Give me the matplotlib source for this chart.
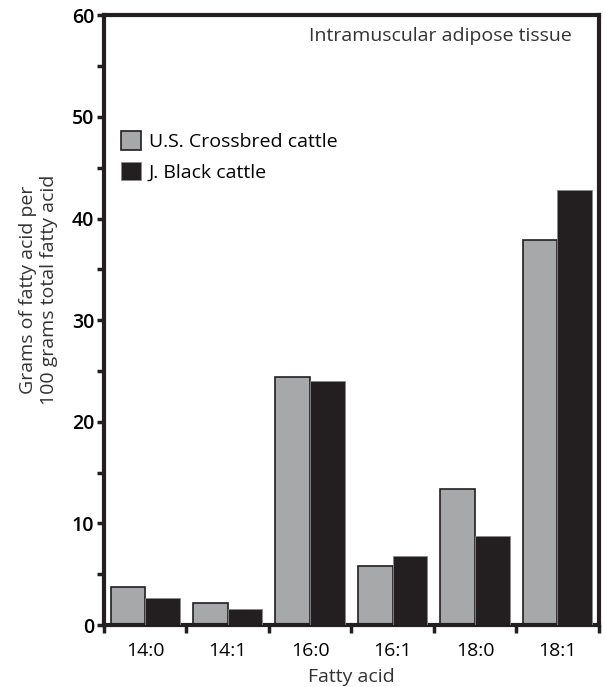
import numpy as np
import matplotlib.pyplot as plt
from matplotlib.ticker import MultipleLocator, FixedLocator

plt.rcParams['font.family'] = ['Open Sans', 'DejaVu Sans']

# Data
acids = ['14:0', '14:1', '16:0', '16:1', '18:0', '18:1']
us_crossbred = [3.7, 2.2, 24.4, 5.8, 13.4, 37.9]
j_black = [2.65, 1.6, 24.0, 6.8, 8.8, 42.8]

gray = '#a7a8aa'
dark = '#231f20'

fig = plt.figure(figsize=(6.06, 6.87), dpi=100)
ax = fig.add_axes([0.1716, 0.0902, 0.8164, 0.8876])

x = np.arange(len(acids))
w = 0.42
ax.bar(x - w / 2, us_crossbred, w, color=gray, edgecolor=dark, linewidth=1.2,
       label='U.S. Crossbred cattle', zorder=2)
ax.bar(x + w / 2, j_black, w, color=dark, edgecolor='#8a8a8a', linewidth=0.6,
       label='J. Black cattle', zorder=3)

ax.set_xlim(-0.5, 5.5)
ax.set_ylim(0, 60)

# y ticks: labelled every 10, minor every 5
ax.yaxis.set_major_locator(MultipleLocator(10))
ax.yaxis.set_minor_locator(MultipleLocator(5))
ax.tick_params(axis='y', which='both', direction='out', length=5, width=2.5,
               color=dark, labelsize=14, pad=2)
for lbl in ax.get_yticklabels():
    lbl.set_fontweight('semibold')

# x ticks at group boundaries, labels at centres
ax.xaxis.set_major_locator(FixedLocator(x))
ax.set_xticklabels(acids, fontsize=14)
ax.xaxis.set_minor_locator(FixedLocator(np.arange(-0.5, 6, 1)))
ax.tick_params(axis='x', which='major', length=0, pad=12)
ax.tick_params(axis='x', which='minor', direction='out', length=6, width=2.5,
               color=dark)

for s in ax.spines.values():
    s.set_linewidth(3)
    s.set_color(dark)

ax.set_xlabel('Fatty acid', fontsize=14, labelpad=6, color='#333333')
ax.set_ylabel('Grams of fatty acid per\n100 grams total fatty acid',
              fontsize=14, color='#333333', linespacing=1.25)
ax.yaxis.set_label_coords(-0.092, 0.55)

ax.text(0.945, 0.98, 'Intramuscular adipose tissue', transform=ax.transAxes,
        ha='right', va='top', fontsize=14, color='#333333')

leg = ax.legend(loc='upper left', bbox_to_anchor=(0.0, 0.839), frameon=False,
                fontsize=14, handlelength=1.0, handleheight=1.1,
                handletextpad=0.4, labelspacing=0.55, borderaxespad=0.5)

fig.savefig('out.png', dpi=100)
